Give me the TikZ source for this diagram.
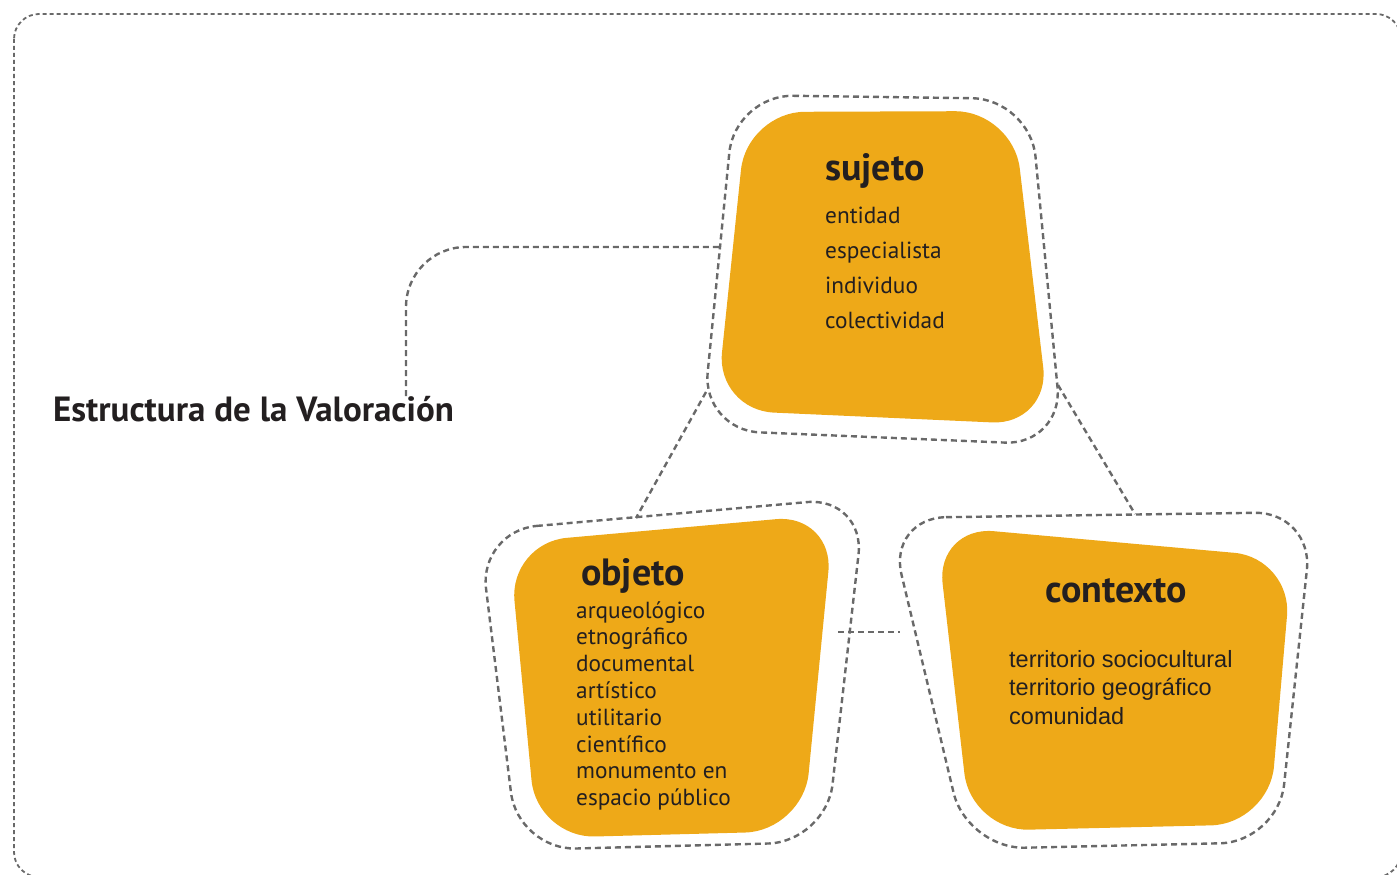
\documentclass[tikz,border=0pt]{standalone}
\usepackage{fontspec}
\setmainfont{PT Sans}
\newfontfamily\arialfont{Liberation Sans}
\usetikzlibrary{calc}
\definecolor{ocre}{RGB}{238,169,24}
\definecolor{gris}{RGB}{105,105,105}
\definecolor{tinta}{RGB}{35,31,32}

\begin{document}
\begin{tikzpicture}[x=1pt,y=-1pt,
  borde/.style={draw=gris,line width=1.8pt,dash pattern=on 4pt off 3pt},
  anillo/.style={draw=gris,line width=2.4pt,dash pattern=on 6pt off 4pt,rounded corners=58pt},
  mancha/.style={fill=ocre,rounded corners=58pt},
  enlace/.style={draw=gris,line width=2.4pt,dash pattern=on 6pt off 4pt},
  titulo/.style={font=\bfseries\fontsize{35}{40}\selectfont,text=tinta,inner sep=0pt,anchor=base west},
  encabezado/.style={font=\bfseries\fontsize{38}{44}\selectfont,text=tinta,inner sep=0pt,anchor=base west},
  item/.style={font=\fontsize{23.3}{28}\selectfont,text=tinta,inner sep=0pt,anchor=base west}]
  \useasboundingbox (0,0) rectangle (1397,875);
  \clip (0,0) rectangle (1397,875);

  % outer frame (runs past the page on the right and bottom)
  \draw[borde,rounded corners=25pt] (14,14) rectangle (1401,877);

  % corners of the blobs (1..4) and of their dashed rings (r1..r4)
  \coordinate (suj1) at (747,112);  \coordinate (suj2) at (1013,111);
  \coordinate (suj3) at (1050,425); \coordinate (suj4) at (716,410);
  \coordinate (sujr1) at (735,95);  \coordinate (sujr2) at (1030,99);
  \coordinate (sujr3) at (1063,445); \coordinate (sujr4) at (702,430);
  \coordinate (obj1) at (509,543);  \coordinate (obj2) at (834,514);
  \coordinate (obj3) at (803,831);  \coordinate (obj4) at (537,838);
  \coordinate (objr1) at (479,531); \coordinate (objr2) at (865,497);
  \coordinate (objr3) at (826,842); \coordinate (objr4) at (518,850);
  \coordinate (ctx1) at (936,526);  \coordinate (ctx2) at (1292,558);
  \coordinate (ctx3) at (1269,824); \coordinate (ctx4) at (971,831);
  \coordinate (ctxr1) at (888,518); \coordinate (ctxr2) at (1313,512);
  \coordinate (ctxr3) at (1278,842); \coordinate (ctxr4) at (967,849);

  \foreach \b in {suj,obj,ctx}{
    \fill[mancha] (\b1) -- (\b2) -- (\b3) -- (\b4) -- cycle;
    \draw[anillo] (\b r1) -- (\b r2) -- (\b r3) -- (\b r4) -- cycle;
  }

  % where the links meet the rings
  \coordinate (ttl-in) at (406,396);
  \coordinate (sujW) at (720,247);
  \coordinate (sujSW) at (706,392);
  \coordinate (sujSE) at (1058,385);
  \coordinate (objN) at (636,518);
  \coordinate (ctxN) at (1135,514);
  \coordinate (objE) at (838,632);
  \coordinate (ctxW) at (900,632);

  \draw[enlace,rounded corners=60pt] (ttl-in) |- (sujW);
  \draw[enlace] (sujSW) -- (objN);
  \draw[enlace] (sujSE) -- (ctxN);
  \draw[enlace] (objE) -- (ctxW);

  \node[titulo] (titulo) at (53,421) {Estructura de la Valoración};

  \node[encabezado] (suj) at (825,180) {sujeto};
  \foreach \t [count=\i] in {entidad,especialista,individuo,colectividad}
    \node[item] (suj-\i) at (825,{223+35*(\i-1)}) {\t};

  \node[encabezado] (obj) at (581,585) {objeto};
  \foreach \t [count=\i] in {arqueológico,etnográfico,documental,artístico,utilitario,científico,monumento en,espacio público}
    \node[item] (obj-\i) at (576,{618+26.8*(\i-1)}) {\t};

  \node[encabezado] (ctx) at (1045,602) {contexto};
  \foreach \t [count=\i] in {territorio sociocultural,territorio geográfico,comunidad}
    \node[item,font=\arialfont\fontsize{23.5}{28}\selectfont] (ctx-\i) at (1009,{667+28.5*(\i-1)}) {\t};
\end{tikzpicture}
\end{document}
